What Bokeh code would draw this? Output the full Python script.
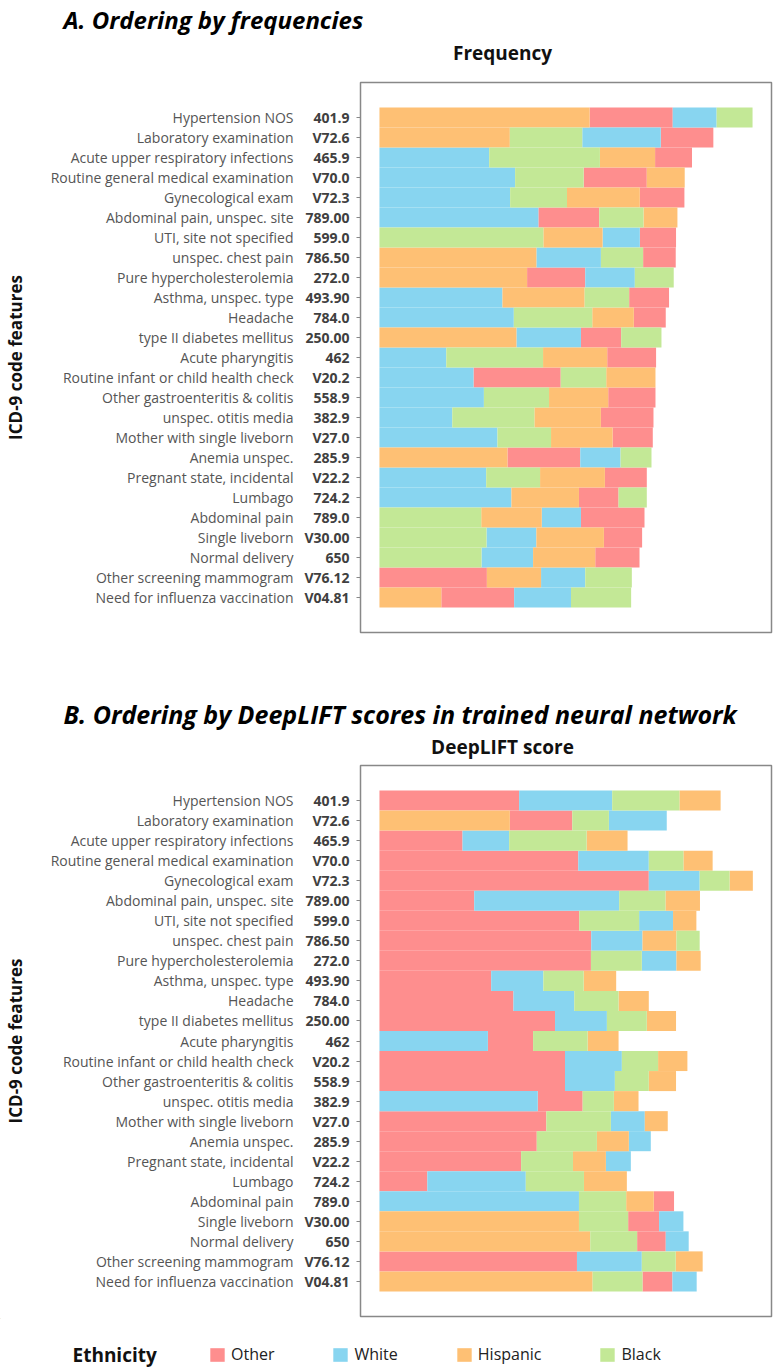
from bokeh.plotting import figure
from bokeh.models import (FactorRange, Range1d, CategoricalAxis, Legend, LegendItem,
                          ColumnDataSource)
from bokeh.layouts import column
from bokeh.embed import file_html
from bokeh.resources import INLINE
from bokeh.core.properties import value

# ---------------- data ----------------
names = ["Hypertension NOS", "Laboratory examination", "Acute upper respiratory infections",
         "Routine general medical examination", "Gynecological exam", "Abdominal pain, unspec. site",
         "UTI, site not specified", "unspec. chest pain", "Pure hypercholesterolemia",
         "Asthma, unspec. type", "Headache", "type II diabetes mellitus", "Acute pharyngitis",
         "Routine infant or child health check", "Other gastroenteritis & colitis",
         "unspec. otitis media", "Mother with single liveborn", "Anemia unspec.",
         "Pregnant state, incidental", "Lumbago", "Abdominal pain", "Single liveborn",
         "Normal delivery", "Other screening mammogram", "Need for influenza vaccination"]
codes = ["401.9", "V72.6", "465.9", "V70.0", "V72.3", "789.00", "599.0", "786.50", "272.0",
         "493.90", "784.0", "250.00", "462", "V20.2", "558.9", "382.9", "V27.0", "285.9",
         "V22.2", "724.2", "789.0", "V30.00", "650", "V76.12", "V04.81"]
ethnicities = ["Other", "White", "Hispanic", "Black"]

# Panel A: frequency (arbitrary units), segment order per row (O/W/H/B)
freq_other = [83.3, 52.7, 37, 63.3, 44.7, 61, 36.3, 32.7, 58.3, 40, 32, 40.3, 49, 87.4, 47.4,
              52.7, 40.3, 73, 42, 39.7, 63.7, 38.3, 44.4, 107.7, 73]
freq_white = [44, 78.7, 110, 136, 131, 159.3, 37.3, 64.7, 49.7, 123.3, 134.7, 64.7, 67, 94.3,
              104.7, 73, 118.3, 40.4, 107, 132.3, 39.3, 50, 51.7, 44.3, 57]
freq_hispanic = [210.7, 130.7, 55.3, 38, 73, 34, 59.4, 157.3, 148, 82.4, 41.7, 137.3, 64.3,
                 49.4, 59.3, 66.7, 61.7, 128.3, 65, 67.7, 60.7, 67.7, 62.3, 54.3, 62]
freq_black = [36, 72.6, 111, 68.7, 57, 44.4, 164.3, 42.3, 39, 44.6, 78.6, 40.4, 97, 45.6, 65.3,
              82.3, 53.7, 31, 54, 28.3, 102, 107.3, 102.3, 46.7, 60.3]
freq_order = ["HOWB", "HBWO", "WBHO", "WBOH", "WBHO", "WOBH", "BHWO", "HWBO", "HOWB", "WHBO",
              "WBHO", "HWOB", "WBHO", "WOBH", "WBHO", "WBHO", "WBHO", "HOWB", "WBHO", "WHOB",
              "BHWO", "BWHO", "BWHO", "OHWB", "HOWB"]

# Panel B: DeepLIFT scores (arbitrary units)
deep_other = [140, 62.6, 83.3, 199.3, 270, 95, 200.3, 212.3, 212, 112, 134.3, 176, 45.3, 186,
              186, 45, 167.3, 157.7, 142, 48, 20.3, 31, 28.7, 198, 30]
deep_white = [93.3, 58, 46.7, 70.7, 51, 145.3, 34, 51.4, 34.7, 52.3, 61, 52, 108.7, 57, 50,
              158.7, 34, 22, 25, 98.7, 200, 24.4, 23, 65, 24.3]
deep_hispanic = [41.3, 130.7, 41, 29.3, 23.3, 34.6, 23.4, 34, 24.3, 32.6, 30.3, 29.3, 31, 29.4,
                 27.3, 24.7, 23, 32, 33, 43, 27.7, 200, 211.3, 27, 213.7]
deep_black = [67.4, 36.7, 77.7, 34.7, 30, 46.4, 60, 23.3, 51, 40.4, 44.4, 40, 54.7, 36.3, 34,
              31.3, 64.7, 60.3, 52, 58.3, 47.3, 49.3, 47, 34, 50]
deep_order = ["OWBH", "HOBW", "OWBH", "OWBH", "OWBH", "OWBH", "OBWH", "OWHB", "OBWH", "OWBH",
              "OWBH", "OWBH", "WOBH", "OWBH", "OWBH", "WOBH", "OBWH", "OBHW", "OBHW", "OWBH",
              "WBHO", "HBOW", "HBOW", "OWBH", "HBOW"]

# ---------------- style ----------------
COLORS = {"Other": "#FE8E8E", "White": "#88D5F0", "Hispanic": "#FEC074", "Black": "#C3E896"}
KEY = {"O": "Other", "W": "White", "H": "Hispanic", "B": "Black"}
FONT = "Open Sans"
W = 773
BL = 359  # left border (frame left)


def no_align(p):
    if "frame_align" in p.properties():
        p.frame_align = False
    return p


def segments(vals, order):
    rows = {e: dict(y=[], left=[], right=[]) for e in ethnicities}
    for i, code in enumerate(codes):
        x = 0.0
        for ch in order[i]:
            e = KEY[ch]
            w = vals[e][i]
            rows[e]["y"].append(code)
            rows[e]["left"].append(x)
            rows[e]["right"].append(x + w)
            x += w
    return rows


def blank(h):
    p = figure(width=W, height=h, x_range=Range1d(0, W), y_range=Range1d(h, 0),
               output_backend="svg", toolbar_location=None, min_border=0,
               x_axis_location=None, y_axis_location=None, title_location=None)
    no_align(p)
    p.outline_line_color = None
    p.xgrid.visible = False
    p.ygrid.visible = False
    return p


def header(h, title, t_base, t_size, sub, s_base):
    p = blank(h)
    p.text(x=[63], y=[t_base], text=[title], text_font=value(FONT), text_font_size=t_size,
           text_font_style="bold italic", text_color="#000000", text_baseline="alphabetic",
           text_align="left")
    p.text(x=[502], y=[s_base], text=[sub], text_font=value(FONT), text_font_size="19px",
           text_font_style="bold", text_color="#111111", text_baseline="alphabetic",
           text_align="center")
    return p


def panel(vals, order, frame_h):
    p = figure(width=W, height=frame_h + 4,
               y_range=FactorRange(factors=codes[::-1], range_padding=0.1),
               x_range=Range1d(-19, 393), x_axis_location=None, title_location=None,
               output_backend="svg", toolbar_location=None,
               min_border_left=BL, min_border_right=2, min_border_top=2,
               min_border_bottom=2)
    p.extra_y_ranges = {"names": FactorRange(factors=names[::-1], range_padding=0.1)}
    p.xgrid.visible = False
    p.ygrid.visible = False
    p.outline_line_color = "#888888"
    p.outline_line_width = 1.5

    ax = p.yaxis[0]
    ax.axis_line_color = None
    ax.major_tick_out = 4
    ax.major_tick_in = 0
    ax.major_tick_line_color = "#888888"
    ax.major_label_standoff = 7
    ax.major_label_text_font = FONT
    ax.major_label_text_font_size = "14px"
    ax.major_label_text_font_style = "bold"
    ax.major_label_text_color = "#404040"

    nax = CategoricalAxis(y_range_name="names")
    nax.axis_line_color = None
    nax.major_tick_line_color = None
    nax.major_tick_out = 0
    nax.major_tick_in = 0
    nax.major_label_standoff = 8
    nax.major_label_text_font = FONT
    nax.major_label_text_font_size = "14px"
    nax.major_label_text_color = "#555555"
    nax.axis_label = "ICD-9 code features"
    nax.axis_label_text_font = FONT
    nax.axis_label_text_font_size = "17px"
    nax.axis_label_text_font_style = "bold"
    nax.axis_label_text_color = "#111111"
    nax.axis_label_standoff = 21
    p.add_layout(nax, "left")

    rows = segments(vals, order)
    for e in ethnicities:
        p.hbar(y="y", left="left", right="right", height=1.0,
               source=ColumnDataSource(rows[e]), fill_color=COLORS[e], line_color=None)
    return p


def legend_fig():
    h = 50
    p = blank(h)
    p.text(x=[72], y=[36], text=["Ethnicity"], text_font=value(FONT), text_font_size="19px",
           text_font_style="bold", text_color="#111111", text_baseline="middle",
           text_align="left")
    items = []
    for e in ethnicities:
        r = p.hbar(y=[-100], left=[-100], right=[-99], height=1, fill_color=COLORS[e],
                   line_color=None)
        items.append(LegendItem(label=e, renderers=[r]))
    leg = Legend(items=items, orientation="horizontal", location=(208, 3),
                 glyph_width=18, glyph_height=17, label_height=17, label_standoff=5,
                 spacing=57, padding=0, margin=0, border_line_color=None,
                 background_fill_alpha=0, label_text_font=FONT, label_text_font_size="16px",
                 label_text_color="#222222")
    p.add_layout(leg)
    return p


vals_a = {"Other": freq_other, "White": freq_white, "Hispanic": freq_hispanic, "Black": freq_black}
vals_b = {"Other": deep_other, "White": deep_white, "Hispanic": deep_hispanic, "Black": deep_black}

hA = header(80, "A. Ordering by frequencies", 18.5, "24px", "Frequency", 52)
pA = panel(vals_a, freq_order, 550)
hB = header(129, "B. Ordering by DeepLIFT scores in trained neural network", 79, "25px",
            "DeepLIFT score", 112)
pB = panel(vals_b, deep_order, 551)
lg = legend_fig()

layout = column(hA, pA, hB, pB, lg, spacing=0)
open("out.html", "w").write(file_html(layout, INLINE))
